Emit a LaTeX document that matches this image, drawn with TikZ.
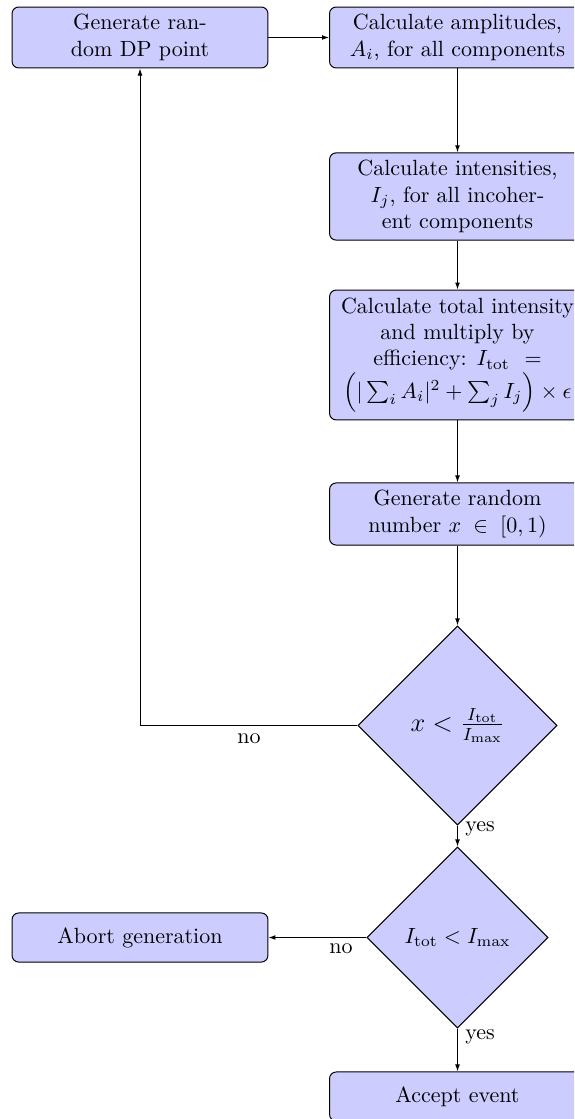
\documentclass[tikz,border=0pt]{standalone}
\usepackage{amsmath}
\usetikzlibrary{shapes.geometric,arrows.meta}
\begin{document}
\begin{tikzpicture}[x=0.4545pt,y=-0.4545pt,
  box/.style={draw,fill=blue!20,rounded corners=3pt,align=center,minimum width=116.3pt,line width=0.45pt},
  dec/.style={draw,fill=blue!20,diamond,aspect=1,inner sep=0pt,align=center,line width=0.45pt},
  arr/.style={-{Latex[length=3.2pt,width=2.2pt]},line width=0.45pt},
  lbl/.style={inner sep=1pt}]
\useasboundingbox (0,0) rectangle (574,1119);
\clip (0,0) rectangle (574,1119);

\node[box,minimum height=27.7pt] (gen) at (140,37.5) {Generate ran-\\dom DP point};
\node[box,minimum height=27.7pt] (amp) at (457.5,37.5) {Calculate amplitudes,\\$A_i$, for all components};
\node[box,minimum height=39.5pt] (int) at (457.5,196.5) {Calculate intensities,\\$I_j$, for all incoher-\\ent components};
\node[box,minimum height=59pt] (tot) at (457.5,355) {Calculate total intensity\\and multiply by\\efficiency: $I_{\mathrm{tot}}$\ \ $=$\\$\left(|\sum_i A_i|^2+\sum_j I_j\right)\times\epsilon$};
\node[box,minimum height=28.2pt] (rnd) at (457.5,514) {Generate random\\number $x\;\in\;[0,1)$};
\node[dec,minimum width=90.5pt,minimum height=90.5pt,font=\large] (d1) at (457.5,725.5) {$x<\frac{I_{\mathrm{tot}}}{I_{\mathrm{max}}}$};
\node[dec,minimum width=82.3pt,minimum height=82.3pt] (d2) at (457.5,937.5) {$I_{\mathrm{tot}}<I_{\mathrm{max}}$};
\node[box,minimum height=22.3pt] (abort) at (140,937.5) {Abort generation};
\node[box,minimum height=22.3pt] (acc) at (457.5,1096.5) {Accept event};

\coordinate (corner) at (140,725.5);

\draw[arr] (gen) -- (amp);
\draw[arr] (amp) -- (int);
\draw[arr] (int) -- (tot);
\draw[arr] (tot) -- (rnd);
\draw[arr] (rnd) -- (d1);
\draw[arr] (d1.west) -- (corner) -- (gen.south);
\draw[arr] (d1) -- (d2);
\draw[arr] (d2) -- (abort);
\draw[arr] (d2) -- (acc);

\node[lbl] (no1) at (249,739) {no};
\node[lbl] (yes1) at (480,829) {yes};
\node[lbl] (no2) at (341,949) {no};
\node[lbl] (yes2) at (480,1037) {yes};
\end{tikzpicture}
\end{document}
